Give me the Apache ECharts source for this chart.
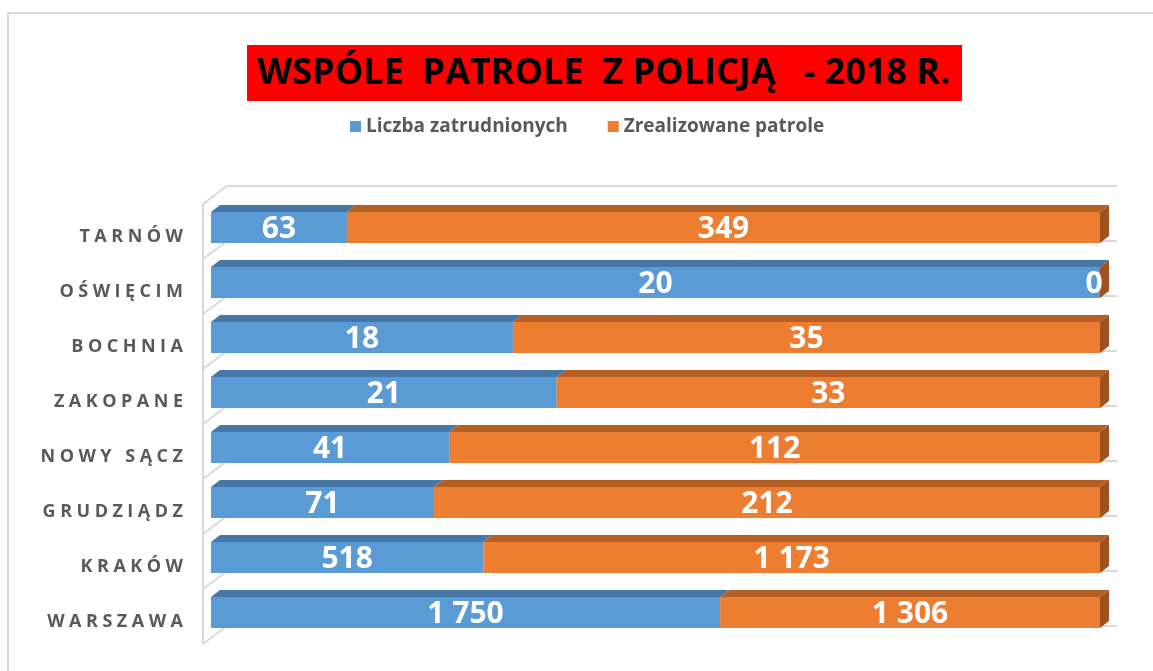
<!DOCTYPE html>
<html lang="pl">
<head>
<meta charset="utf-8">
<title>Wspólne patrole z policją - 2018</title>
<script src="https://cdn.jsdelivr.net/npm/echarts@6/dist/echarts.min.js"></script>
<style>
  html, body { margin: 0; padding: 0; background: #fff; }
  #container { width: 1153px; height: 671px; }
</style>
</head>
<body>
<div id="container"></div>
<script>
// dane z wykresu
var categories = ['TARNÓW', 'OŚWIĘCIM', 'BOCHNIA', 'ZAKOPANE', 'NOWY SĄCZ', 'GRUDZIĄDZ', 'KRAKÓW', 'WARSZAWA'];
var zatrudnieni = [63, 20, 18, 21, 41, 71, 518, 1750];
var patrole = [349, 0, 35, 33, 112, 212, 1173, 1306];
var seriesNames = ['Liczba zatrudnionych', 'Zrealizowane patrole'];
var titleText = 'WSPÓLE  PATROLE  Z POLICJĄ   - 2018 R.';

var colors = ['#5B9BD5', '#ED7D31'];
var topColors = ['#4677A6', '#B55F25'];
var sideColors = ['#3E6A94', '#9E521E'];

// 100% skumulowane – udzialy liczone z wartosci
var blueData = [], orangeData = [];
for (var i = 0; i < categories.length; i++) {
  var total = zatrudnieni[i] + patrole[i];
  var f = total ? zatrudnieni[i] / total : 0;
  blueData.push([i, 0, f, zatrudnieni[i]]);
  orangeData.push([i, f, 1, patrole[i]]);
}

function fmt(v) {
  return String(v).replace(/\B(?=(\d{3})+(?!\d))/g, ' ');
}

var DX = 9, DY = 7;

function barRenderer(idx) {
  return function (params, api) {
    var cat = api.value(0);
    var p0 = api.coord([api.value(1), cat]);
    var p1 = api.coord([api.value(2), cat]);
    var band = api.size([0, 1])[1];
    var h = band * 0.565;
    var yc = p0[1] - 4;
    var x0 = p0[0], x1 = p1[0];
    var yt = yc - h / 2, yb = yc + h / 2;
    var children = [
      { type: 'rect', shape: { x: x0, y: yt, width: x1 - x0, height: h },
        style: { fill: colors[idx] } },
      { type: 'polygon', shape: { points: [[x0, yt], [x1, yt], [x1 + DX, yt - DY], [x0 + DX, yt - DY]] },
        style: { fill: topColors[idx] } }
    ];
    if (idx === 1) {
      children.push({ type: 'polygon', shape: { points: [[x1, yt], [x1 + DX, yt - DY], [x1 + DX, yb - DY], [x1, yb]] },
        style: { fill: sideColors[idx] } });
    }
    var lx = (x0 + x1) / 2;
    if (x1 - x0 < 20) lx = x1 - 6;
    children.push({ type: 'text', x: lx, y: yc + 2,
      style: { text: fmt(api.value(3)), fill: '#fff', fontFamily: 'Open Sans', fontWeight: 'bold',
        fontSize: 30, align: 'center', verticalAlign: 'middle' } });
    return { type: 'group', children: children };
  };
}

function wallRenderer(params, api) {
  var cat = api.value(0);
  var band = api.size([0, 1])[1];
  var pL = api.coord([0, cat]);
  var pR = api.coord([1, cat]);
  var xl = pL[0] - 8, xr = pR[0] + 17;
  var BX = 24, BY = -18;
  var ys = [pL[1] - band / 2];
  if (cat === categories.length - 1) ys.push(pL[1] + band / 2);
  var st = { stroke: '#D9D9D9', lineWidth: 2, fill: null };
  var ch = [];
  ys.forEach(function (y) {
    ch.push({ type: 'line', shape: { x1: xl + BX, y1: y + BY, x2: xr, y2: y + BY }, style: st });
    ch.push({ type: 'line', shape: { x1: xl, y1: y, x2: xl + BX, y2: y + BY }, style: st });
  });
  ch.push({ type: 'line', shape: { x1: xl, y1: pL[1] - band / 2, x2: xl, y2: pL[1] + band / 2 }, style: st });
  return { type: 'group', children: ch };
}

var myChart = echarts.init(document.getElementById('container'));
var option = {
  animation: false,
  color: colors,
  graphic: [
    { type: 'rect', shape: { x: 8, y: 13, width: 1200, height: 700 },
      style: { fill: null, stroke: '#D9D9D9', lineWidth: 2 }, z: -10 },
    { type: 'rect', shape: { x: 247, y: 45, width: 715, height: 56 }, style: { fill: '#FF0000' } },
    { type: 'text', x: 604, y: 74,
      style: { text: titleText, fill: '#000', fontFamily: 'Open Sans', fontWeight: 'bold', fontSize: 36,
        align: 'center', verticalAlign: 'middle' } }
  ],
  legend: {
    left: 345, top: 112,
    itemWidth: 11, itemHeight: 11, itemGap: 40,
    icon: 'rect',
    data: seriesNames,
    textStyle: { color: '#595959', fontFamily: 'Open Sans', fontWeight: 'bold', fontSize: 19 }
  },
  grid: { left: 211, right: 53, top: 204, bottom: 27 },
  xAxis: { type: 'value', min: 0, max: 1, show: false },
  yAxis: {
    type: 'category', inverse: true, data: categories,
    axisLine: { show: false }, axisTick: { show: false }, splitLine: { show: false },
    axisLabel: {
      margin: 28,
      formatter: function (v) { return '{a|' + v.split('').join('\u2005') + '}'; },
      rich: {
        a: { color: '#595959', fontFamily: 'Open Sans', fontWeight: 'bold', fontSize: 18,
          padding: [10, 0, 0, 0] }
      }
    }
  },
  series: [
    { type: 'custom', name: 'walls', silent: true, z: 1,
      data: categories.map(function (c, i) { return [i]; }),
      encode: { y: 0 }, renderItem: wallRenderer },
    { type: 'custom', name: seriesNames[0], z: 2, data: blueData,
      itemStyle: { color: colors[0] },
      encode: { y: 0, x: [1, 2] }, renderItem: barRenderer(0) },
    { type: 'custom', name: seriesNames[1], z: 3, data: orangeData,
      itemStyle: { color: colors[1] },
      encode: { y: 0, x: [1, 2] }, renderItem: barRenderer(1) }
  ]
};
myChart.setOption(option);
</script>
</body>
</html>
